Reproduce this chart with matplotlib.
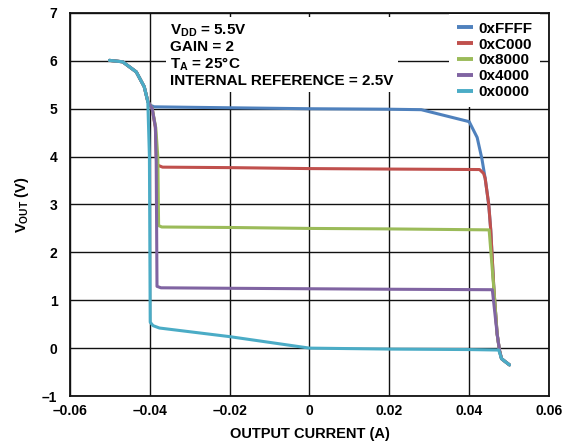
import matplotlib
matplotlib.use('Agg')
import matplotlib.pyplot as plt
from matplotlib.ticker import FuncFormatter

plt.rcParams['font.family'] = ['Liberation Sans', 'DejaVu Sans']
plt.rcParams['font.weight'] = 'bold'
plt.rcParams['mathtext.fontset'] = 'custom'
plt.rcParams['mathtext.rm'] = 'Liberation Sans:bold'
plt.rcParams['mathtext.it'] = 'Liberation Sans:bold'
plt.rcParams['mathtext.bf'] = 'Liberation Sans:bold'

# --- data ---
# shared knee at the left: every code leaves 6 V the same way
knee_x = [-0.0501, -0.0468, -0.0434, -0.0414, -0.0405]
knee_y = [6.01, 5.98, 5.77, 5.46, 5.15]

# shared current-limit edge at the right
edge_x = [0.0440, 0.0449, 0.0454, 0.0462, 0.0470, 0.0476, 0.0481, 0.0490, 0.0501]
edge_y = [3.55, 3.00, 2.47, 1.22, 0.30, -0.05, -0.22, -0.28, -0.35]

ffff_x = knee_x + [-0.0398, -0.0389, -0.030, -0.010, 0.0, 0.020, 0.028, 0.0400, 0.0420, 0.0432] + edge_x
ffff_y = knee_y + [5.07, 5.04, 5.03, 5.01, 5.00, 4.99, 4.98, 4.73, 4.40, 3.95] + edge_y

c000_x = knee_x + [-0.0394, -0.0386, -0.0384, -0.0380, -0.0368, -0.020, 0.0, 0.020, 0.0426, 0.0436] + edge_x
c000_y = knee_y + [5.00, 4.60, 4.00, 3.82, 3.78, 3.77, 3.75, 3.74, 3.73, 3.65] + edge_y

x8000_x = knee_x + [-0.0394, -0.0385, -0.0380, -0.0378, -0.0370, -0.020, 0.0, 0.020, 0.0450] + edge_x[3:]
x8000_y = knee_y + [5.00, 4.60, 4.00, 2.56, 2.53, 2.52, 2.50, 2.49, 2.47] + edge_y[3:]

x4000_x = knee_x + [-0.0394, -0.0386, -0.0384, -0.0382, -0.0372, -0.020, 0.0, 0.020, 0.0458] + edge_x[4:]
x4000_y = knee_y + [5.00, 4.62, 3.90, 1.29, 1.26, 1.25, 1.24, 1.23, 1.22] + edge_y[4:]

x0000_x = knee_x + [-0.0401, -0.0399, -0.0392, -0.0376, -0.020, 0.0, 0.020, 0.040, 0.0474] + edge_x[6:]
x0000_y = knee_y + [4.00, 0.54, 0.47, 0.42, 0.24, 0.00, -0.02, -0.03, -0.04] + edge_y[6:]

series = [
    ('0xFFFF', ffff_x, ffff_y, '#4F81BD'),
    ('0xC000', c000_x, c000_y, '#C0504D'),
    ('0x8000', x8000_x, x8000_y, '#9BBB59'),
    ('0x4000', x4000_x, x4000_y, '#8064A2'),
    ('0x0000', x0000_x, x0000_y, '#4BACC6'),
]

x_ticks = [-0.06, -0.04, -0.02, 0, 0.02, 0.04, 0.06]
y_ticks = [-1, 0, 1, 2, 3, 4, 5, 6, 7]

fig = plt.figure(figsize=(5.75, 4.46), dpi=100)
ax = fig.add_axes([0.1217, 0.1121, 0.8331, 0.8588])

for label, xs, ys, color in series:
    ax.plot(xs, ys, color=color, linewidth=2.2, label=label,
            solid_capstyle='round', solid_joinstyle='round', zorder=3)

ax.set_xlim(-0.06, 0.06)
ax.set_ylim(-1, 7)
ax.set_xticks(x_ticks)
ax.set_yticks(y_ticks)


def fmt_x(v, pos):
    if abs(v) < 1e-9:
        return '0'
    return ('%.2f' % v).replace('-', '\u2013')


def fmt_y(v, pos):
    return ('%d' % v).replace('-', '\u2013')


ax.xaxis.set_major_formatter(FuncFormatter(fmt_x))
ax.yaxis.set_major_formatter(FuncFormatter(fmt_y))
ax.tick_params(axis='x', length=0, labelsize=10, pad=6)
ax.tick_params(axis='y', length=0, labelsize=10, pad=9)
for t in ax.get_xticklabels() + ax.get_yticklabels():
    t.set_fontweight('bold')

ax.grid(True, color='#111111', linewidth=1.0, zorder=0)
ax.set_axisbelow(True)
for s in ax.spines.values():
    s.set_linewidth(1.3)
    s.set_color('#111111')

ax.set_xlabel('OUTPUT CURRENT (A)', fontsize=10.5, fontweight='bold', labelpad=6)
ax.set_ylabel('V$_{OUT}$ (V)', fontsize=10.5, fontweight='bold', labelpad=8)

ax.text(0.209, 0.974,
        'V$_{DD}$ = 5.5V\nGAIN = 2\nT$_{A}$ = 25°C\nINTERNAL REFERENCE = 2.5V',
        transform=ax.transAxes, fontsize=11, fontweight='bold', va='top', ha='left',
        linespacing=1.1, zorder=4,
        bbox=dict(facecolor='white', edgecolor='none', pad=3))

leg = ax.legend(loc='upper right', bbox_to_anchor=(0.982, 0.997), frameon=True,
                fontsize=11, handlelength=1.1, handletextpad=0.35,
                borderpad=0.5, labelspacing=0.12, borderaxespad=0.0)
leg.get_frame().set_edgecolor('none')
leg.get_frame().set_facecolor('white')
leg.get_frame().set_alpha(1)
leg.get_frame().set_boxstyle('square', pad=0)
for line in leg.get_lines():
    line.set_linewidth(2.8)
    line.set_solid_capstyle('butt')
for t in leg.get_texts():
    t.set_fontweight('bold')

fig.savefig('out.png', dpi=100)
